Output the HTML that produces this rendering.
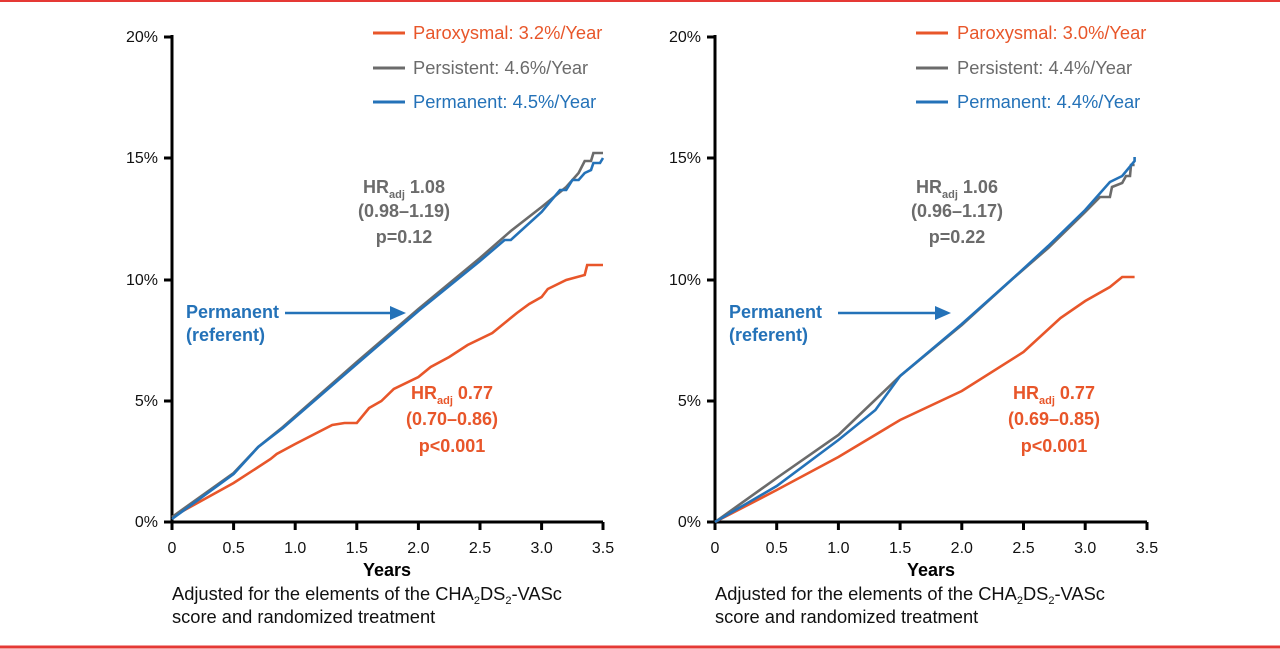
<!DOCTYPE html>
<html><head><meta charset="utf-8"><style>
body{margin:0;background:#fff}
svg{display:block;font-family:"Liberation Sans",Arial,sans-serif}
.t{font-size:16px;fill:#111}
.lg{font-size:18.3px}
.b{font-weight:bold;font-size:18px}
.f{font-size:18.3px;fill:#111}
</style></head><body>
<svg width="1280" height="649" viewBox="0 0 1280 649">
<line x1="0" y1="1" x2="1280" y2="1" stroke="#e53935" stroke-width="2"/>
<line x1="0" y1="647" x2="1280" y2="647" stroke="#e53935" stroke-width="3"/>

<!-- LEFT CHART -->
<g>
<path d="M172,35 V522 H603" fill="none" stroke="#000" stroke-width="3"/>
<g stroke="#000" stroke-width="3">
<line x1="164" y1="37" x2="172" y2="37"/><line x1="164" y1="158" x2="172" y2="158"/><line x1="164" y1="280" x2="172" y2="280"/><line x1="164" y1="401" x2="172" y2="401"/><line x1="164" y1="522" x2="172" y2="522"/>
<line x1="233.6" y1="522" x2="233.6" y2="530"/><line x1="295.2" y1="522" x2="295.2" y2="530"/><line x1="356.8" y1="522" x2="356.8" y2="530"/><line x1="418.4" y1="522" x2="418.4" y2="530"/><line x1="480" y1="522" x2="480" y2="530"/><line x1="541.6" y1="522" x2="541.6" y2="530"/><line x1="603" y1="522" x2="603" y2="530"/><line x1="172" y1="522" x2="172" y2="530"/>
</g>
<g class="t" text-anchor="end"><text x="158" y="42">20%</text><text x="158" y="163">15%</text><text x="158" y="285">10%</text><text x="158" y="406">5%</text><text x="158" y="527">0%</text></g>
<g class="t" text-anchor="middle"><text x="172" y="553">0</text><text x="233.6" y="553">0.5</text><text x="295.2" y="553">1.0</text><text x="356.8" y="553">1.5</text><text x="418.4" y="553">2.0</text><text x="480" y="553">2.5</text><text x="541.6" y="553">3.0</text><text x="603" y="553">3.5</text></g>
<text x="387" y="576" text-anchor="middle" style="font-weight:bold;font-size:18px">Years</text>
<text x="172" y="600" class="f">Adjusted for the elements of the CHA<tspan font-size="11" dy="4">2</tspan><tspan dy="-4">DS</tspan><tspan font-size="11" dy="4">2</tspan><tspan dy="-4">-VASc</tspan></text>
<text x="172" y="623" class="f">score and randomized treatment</text>

<polyline fill="none" stroke="#e8562a" stroke-width="2.6" points="172,517 233.6,483 270.6,459 276.7,454 295.2,444 332.2,425 344.5,423 356.8,423 369.1,408 381.4,401 393.8,389 418.4,377 430.7,367 449.2,357 467.6,345 492.3,333 504.6,323 516.9,313 529.2,304 541.6,297 547.8,289 566.2,280 584.7,275 587.2,265 603,265"/>
<polyline fill="none" stroke="#6b6b6b" stroke-width="2.6" points="172,517 233.6,473 258.2,447 282.9,427 356.8,362 418.4,309 480,258 510.8,231 541.6,207 566.2,187 578.6,173 584.7,161 591,161 593.4,153 603,153"/>
<polyline fill="none" stroke="#2472b8" stroke-width="2.6" points="172,519 233.6,474 258.2,447 282.9,428 356.8,364 418.4,311 480,261 504.6,240 510.8,240 541.6,212 560,190 566.2,190 572.4,180 578.6,180 584.7,173 591,170 593.4,163 600,163 603,158"/>

<g class="lg">
<line x1="373" y1="33" x2="405" y2="33" stroke="#e8562a" stroke-width="3"/><text x="413" y="39" fill="#e8562a">Paroxysmal: 3.2%/Year</text>
<line x1="373" y1="68" x2="405" y2="68" stroke="#6b6b6b" stroke-width="3"/><text x="413" y="74" fill="#6b6b6b">Persistent: 4.6%/Year</text>
<line x1="373" y1="102" x2="405" y2="102" stroke="#2472b8" stroke-width="3"/><text x="413" y="108" fill="#2472b8">Permanent: 4.5%/Year</text>
</g>
<g class="b" fill="#6b6b6b" text-anchor="middle">
<text x="404" y="193">HR<tspan font-size="11" dy="5">adj</tspan><tspan dy="-5"> 1.08</tspan></text>
<text x="404" y="217">(0.98–1.19)</text><text x="404" y="243">p=0.12</text></g>
<g class="b" fill="#e8562a" text-anchor="middle">
<text x="452" y="399">HR<tspan font-size="11" dy="5">adj</tspan><tspan dy="-5"> 0.77</tspan></text>
<text x="452" y="425">(0.70–0.86)</text><text x="452" y="452">p&lt;0.001</text></g>
<g class="b" fill="#2472b8"><text x="186" y="318">Permanent</text><text x="186" y="341">(referent)</text></g>
<line x1="285" y1="313" x2="392" y2="313" stroke="#2472b8" stroke-width="2.5"/>
<polygon points="406,313 390,306 390,320" fill="#2472b8"/>
</g>

<!-- RIGHT CHART -->
<g>
<path d="M715,35 V522 H1147" fill="none" stroke="#000" stroke-width="3"/>
<g stroke="#000" stroke-width="3">
<line x1="707" y1="37" x2="715" y2="37"/><line x1="707" y1="158" x2="715" y2="158"/><line x1="707" y1="280" x2="715" y2="280"/><line x1="707" y1="401" x2="715" y2="401"/><line x1="707" y1="522" x2="715" y2="522"/>
<line x1="715" y1="522" x2="715" y2="530"/><line x1="776.7" y1="522" x2="776.7" y2="530"/><line x1="838.4" y1="522" x2="838.4" y2="530"/><line x1="900.1" y1="522" x2="900.1" y2="530"/><line x1="961.8" y1="522" x2="961.8" y2="530"/><line x1="1023.5" y1="522" x2="1023.5" y2="530"/><line x1="1085.2" y1="522" x2="1085.2" y2="530"/><line x1="1147" y1="522" x2="1147" y2="530"/>
</g>
<g class="t" text-anchor="end"><text x="701" y="42">20%</text><text x="701" y="163">15%</text><text x="701" y="285">10%</text><text x="701" y="406">5%</text><text x="701" y="527">0%</text></g>
<g class="t" text-anchor="middle"><text x="715" y="553">0</text><text x="776.7" y="553">0.5</text><text x="838.4" y="553">1.0</text><text x="900.1" y="553">1.5</text><text x="961.8" y="553">2.0</text><text x="1023.5" y="553">2.5</text><text x="1085.2" y="553">3.0</text><text x="1147" y="553">3.5</text></g>
<text x="931" y="576" text-anchor="middle" style="font-weight:bold;font-size:18px">Years</text>
<text x="715" y="600" class="f">Adjusted for the elements of the CHA<tspan font-size="11" dy="4">2</tspan><tspan dy="-4">DS</tspan><tspan font-size="11" dy="4">2</tspan><tspan dy="-4">-VASc</tspan></text>
<text x="715" y="623" class="f">score and randomized treatment</text>

<polyline fill="none" stroke="#e8562a" stroke-width="2.6" points="715,522 776.7,490 838.4,457 900.1,420 961.8,391 1023.5,352 1060.5,318 1085.2,301 1109.9,287 1122.2,277 1134.6,277"/>
<polyline fill="none" stroke="#6b6b6b" stroke-width="2.6" points="715,522 776.7,478 838.4,435 900.1,376 961.8,325 1011.2,280 1048.2,248 1085.2,212 1100,197 1109.9,197 1112,187 1122.2,183 1126,176 1130,176 1131,165 1134.6,165"/>
<polyline fill="none" stroke="#2472b8" stroke-width="2.6" points="715,522 776.7,486 838.4,440 875.4,410 900.1,376 961.8,324 1011.2,280 1048.2,246 1085.2,210 1109.9,182 1122.2,176 1134.6,161 1134.6,157"/>

<g class="lg">
<line x1="916" y1="33" x2="948" y2="33" stroke="#e8562a" stroke-width="3"/><text x="957" y="39" fill="#e8562a">Paroxysmal: 3.0%/Year</text>
<line x1="916" y1="68" x2="948" y2="68" stroke="#6b6b6b" stroke-width="3"/><text x="957" y="74" fill="#6b6b6b">Persistent: 4.4%/Year</text>
<line x1="916" y1="102" x2="948" y2="102" stroke="#2472b8" stroke-width="3"/><text x="957" y="108" fill="#2472b8">Permanent: 4.4%/Year</text>
</g>
<g class="b" fill="#6b6b6b" text-anchor="middle">
<text x="957" y="193">HR<tspan font-size="11" dy="5">adj</tspan><tspan dy="-5"> 1.06</tspan></text>
<text x="957" y="217">(0.96–1.17)</text><text x="957" y="243">p=0.22</text></g>
<g class="b" fill="#e8562a" text-anchor="middle">
<text x="1054" y="399">HR<tspan font-size="11" dy="5">adj</tspan><tspan dy="-5"> 0.77</tspan></text>
<text x="1054" y="425">(0.69–0.85)</text><text x="1054" y="452">p&lt;0.001</text></g>
<g class="b" fill="#2472b8"><text x="729" y="318">Permanent</text><text x="729" y="341">(referent)</text></g>
<line x1="838" y1="313" x2="937" y2="313" stroke="#2472b8" stroke-width="2.5"/>
<polygon points="951,313 935,306 935,320" fill="#2472b8"/>
</g>
</svg>
</body></html>
